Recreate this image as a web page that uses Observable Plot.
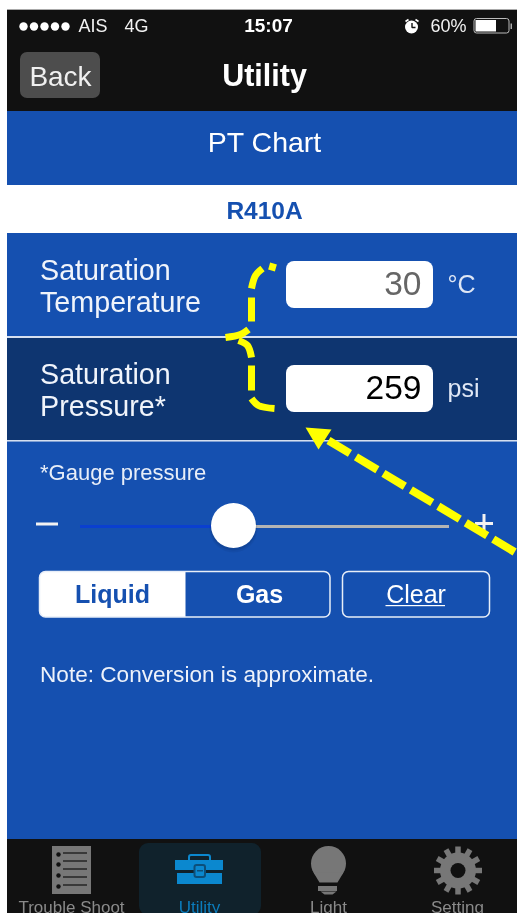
<!DOCTYPE html>
<html><head><meta charset="utf-8">
<style>html,body{margin:0;padding:0;background:#fff;overflow:hidden}svg{display:block;filter:blur(0.45px)}</style>
<script src="https://cdn.jsdelivr.net/npm/d3@7"></script>
<script src="https://cdn.jsdelivr.net/npm/@observablehq/plot@0.6"></script>
</head><body><div id="chart"></div>
<script>
// Values and labels
const chartName = "PT Chart";
const refrigerant = "R410A";
const rowLabels = [["Saturation","Temperature"],["Saturation","Pressure*"]];
const readings = [30, 259];
const units = ["°C","psi"];
const tabLabels = ["Trouble Shoot","Utility","Light","Setting"];
const modes = ["Liquid","Gas"];
const statusLeft = ["AIS","4G"];
const statusTime = "15:07";
const batteryPct = 60;

const FONT = "'Liberation Sans', Arial, sans-serif";
const BLUE = "#1550b0", DARK = "#0e3570", BLACK = "#111111", GREY = "#777777", TAB = "#0b88cf";

const box = (x1,y1,x2,y2,fill,o={}) => Plot.rect([{x1,y1,x2,y2}],{x1:"x1",y1:"y1",x2:"x2",y2:"y2",fill,...o});
const label = (t,x,y,size,fill,o={}) => Plot.text([t],{text:d=>d,x:()=>x,y:()=>y,fontSize:size,fill,lineAnchor:"bottom",textAnchor:"middle",fontFamily:FONT,...o});
const start = {textAnchor:"start"}, end = {textAnchor:"end"};
const path = (pts,stroke,w,o={}) => Plot.line(pts,{x:d=>d[0],y:d=>d[1],stroke,strokeWidth:w,strokeLinecap:"butt",strokeLinejoin:"miter",...o});
const poly = (pts,fill) => Plot.line([...pts,pts[0]],{x:d=>d[0],y:d=>d[1],fill,stroke:"none"});
const dot = (x,y,r,fill,o={}) => Plot.dot([0],{x:()=>x,y:()=>y,r,fill,stroke:"none",...o});

// hand-drawn yellow brace, one list per dash
const braceDashes = [
  [[273,263],[271,270]],
  [[262,268],[255,275],[251,288]],
  [[251,297],[251,321]],
  [[248,329],[240,334],[225,337]],
  [[238,340],[247,345],[251,357]],
  [[251,365],[251,390]],
  [[251,398],[258,405],[274,408]]
];
const arrowShaft = [[328,440],[515,552]];
const arrowHead = [[305,427],[331,429],[318,449]];

const gearTeeth = [0,30,60,90,120,150,180,210,240,270,300,330];
const listDots = [854,864,875,886];
const listLines = [853,861,869,877,885];

const marks = [
  // panels
  box(7,10,517,111,BLACK),
  box(7,9,517,10,"#aaaaaa"),
  box(7,111,517,185,BLUE),
  box(7,185,517,233,"#ffffff"),
  box(7,233,517,440,BLUE),
  box(7,337,517,440,DARK),
  box(7,336,517,338,"#d5dff0"),
  box(7,440,517,441.5,"#d5dff0"),
  box(7,441.5,517,839,BLUE),
  box(7,839,517,913,BLACK),

  // status bar
  ...[23,33.5,44,54.5,65].map(x => dot(x,26,4.2,"#ffffff")),
  label(statusLeft[0],78,31.5,18,"#f2f2f2",start),
  label(statusLeft[1],124,31.5,18,"#f2f2f2",start),
  label(statusTime,268,31.5,19,"#ffffff",{fontWeight:"bold"}),
  dot(411,26.5,6.5,"#ffffff"),
  path([[411.5,22.5],[411.5,27],[415,27]],BLACK,1.4),
  path([[405,21],[408,19]],"#ffffff",1.6),
  path([[415,19],[418,21]],"#ffffff",1.6),
  label(batteryPct+"%",430,31.5,18,"#f2f2f2",start),
  box(474,18.5,509,33,"none",{stroke:"#bbbbbb",strokeWidth:1,rx:2.5,ry:2.5}),
  box(475.5,20,496,31.5,"#ffffff"),
  box(510.5,23.5,512,29,"#aaaaaa"),

  // header
  box(20,52,100,98,"#4d4d4d",{rx:7,ry:7}),
  label("Back",60,85.5,28,"#f0f0f0"),
  label("Utility",264,85.5,30.5,"#ffffff",{fontWeight:"bold"}),
  label(chartName,264,151.5,28.5,"#ffffff"),
  label(refrigerant,264,218.5,24.5,BLUE,{fontWeight:"bold"}),

  // rows
  label(rowLabels[0][0],39.5,279,28.7,"#f0f4fb",start),
  label(rowLabels[0][1],39.5,311,28.7,"#f0f4fb",start),
  label(rowLabels[1][0],39.5,383,28.7,"#f0f4fb",start),
  label(rowLabels[1][1],39.5,415,28.7,"#f0f4fb",start),
  box(286,261,433,308,"#ffffff",{rx:8,ry:8}),
  box(286,365,433,412,"#ffffff",{rx:8,ry:8}),
  label(String(readings[0]),421,294.5,33.5,"#666666",end),
  label(String(readings[1]),421,398.5,33.5,"#000000",end),
  label(units[0],447,292.5,25,"#dfe7f5",start),
  label(units[1],447,396.5,25,"#dfe7f5",start),

  // slider
  label("*Gauge pressure",39.5,479,22,"#e8eef8",start),
  box(36,522.5,58,525.5,"#f2f2f2"),
  box(80,525,215,528,"#0a3fd0"),
  box(250,525,449,528,"#b4b4b4"),
  dot(233,528,24,"#000000",{fillOpacity:0.05}),
  dot(233,527,23,"#000000",{fillOpacity:0.08}),
  dot(233,525,22.5,"#ffffff"),
  box(475,522,493,525,"#f2f2f2"),
  box(482.5,514,485.5,532,"#f2f2f2"),

  // buttons
  box(39.5,571.5,120,617,"#ffffff",{rx:6,ry:6}),
  box(60,571.5,185.5,617,"#ffffff"),
  box(39.5,571.5,330,617,"none",{stroke:"#e8eef8",strokeWidth:1.5,rx:6,ry:6}),
  box(342.5,571.5,489.5,617,"none",{stroke:"#e8eef8",strokeWidth:1.5,rx:6,ry:6}),
  label(modes[0],112,602.5,25,BLUE,{fontWeight:"bold"}),
  label(modes[1],259,602.5,25,"#ffffff",{fontWeight:"bold"}),
  label("Clear",415.5,602.5,25,"#ffffff"),
  box(385.5,605,445,606.2,"#ffffff"),
  label("Note: Conversion is approximate.",39.5,681,22.6,"#eef2fa",start),

  // yellow annotation
  ...braceDashes.map(d => path(d,"#ffff00",7,{curve:"catmull-rom"})),
  path(arrowShaft,"#ffff00",8,{strokeDasharray:"25,7"}),
  poly(arrowHead,"#ffff00"),

  // tab bar
  box(139,843,261,915,"#10222c",{rx:9,ry:9}),
  // list icon
  box(52,846,91,894,GREY),
  ...listDots.map(y => dot(58,y,2.2,BLACK)),
  ...listLines.map(y => box(63,y-0.6,87,y+0.6,BLACK)),
  // toolbox
  box(189,855,210,862,"none",{stroke:TAB,strokeWidth:2,rx:2,ry:2}),
  box(175,860,223,870,TAB),
  box(177,873,222,884,TAB),
  box(194.5,865,205,877,TAB,{stroke:"#0c4f7a",strokeWidth:2,rx:2,ry:2}),
  box(197,870,203,871.5,"#0c4f7a"),
  // bulb
  dot(328,863,17.5,GREY),
  poly([[313,872],[343,872],[337,882],[319,882]],GREY),
  box(318,886,337,891,GREY),
  poly([[320,891],[336,891],[332,894],[324,894]],GREY),
  // gear
  ...gearTeeth.map(a => path([
    [457.5+15*Math.cos(a*Math.PI/180),870+15*Math.sin(a*Math.PI/180)],
    [457.5+24*Math.cos(a*Math.PI/180),870+24*Math.sin(a*Math.PI/180)]
  ],GREY,5.5)),
  dot(457.5,870,18,GREY),
  dot(457.5,870,7.5,BLACK),

  label(tabLabels[0],71,912,17,"#8a8a8a"),
  label(tabLabels[1],199,912,17,"#0b7cbc"),
  label(tabLabels[2],328,912,17,"#8a8a8a"),
  label(tabLabels[3],457,912,17,"#8a8a8a")
];

const chart = Plot.plot({
  width:517, height:913,
  marginTop:0, marginRight:0, marginBottom:0, marginLeft:0,
  x:{domain:[0,517],range:[0,517],axis:null},
  y:{domain:[0,913],range:[0,913],axis:null},
  style:{background:"#ffffff"},
  marks
});
document.getElementById("chart").append(chart);
</script>
</body></html>
